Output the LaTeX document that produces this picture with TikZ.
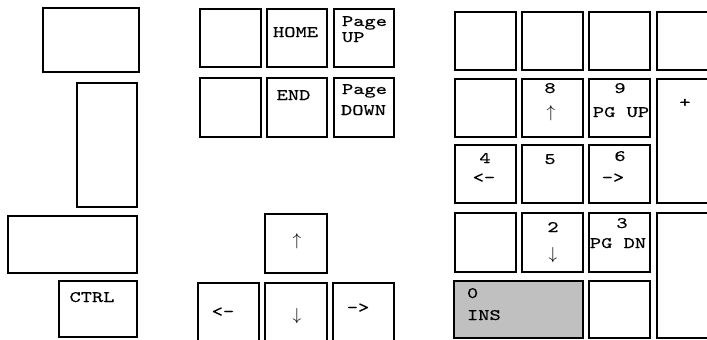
\documentclass[tikz,border=0pt]{standalone}
\usepackage{fontspec}
\definecolor{keygray}{RGB}{192,192,192}
\newfontfamily\keyfam{lmmono10-regular.otf}[FakeStretch=1.34,FakeBold=0.6]
\newcommand\kf{\keyfam\fontsize{16}{16}\selectfont}
\tikzset{
  keybox/.style={draw=black, line width=2.6pt, fill=white, inner sep=0pt, outer sep=0pt},
  keytxt/.style={inner sep=0pt, outer sep=0pt, font=\kf},
  keyarrow/.style={inner sep=0pt, outer sep=0pt, font=\fontsize{19}{19}\selectfont},
}
\newcommand\K[6]{\node[keybox, minimum width=#4pt, minimum height=#5pt, #6] (#1) at (#2,#3) {};}
\begin{document}
\begin{tikzpicture}[x=1pt,y=-1pt]
\useasboundingbox (0,0) rectangle (707,340);
\begin{scope}
\clip (0,0) rectangle (707,340);
% left column
\K{kA}{91}{40}{96}{64}{}
\K{kB}{107}{145}{60}{124}{}
\K{kC}{72.5}{244.5}{129}{57}{}
\K{kCtrl}{98}{309}{78}{56}{}
% middle block
\K{kIns}{230.5}{38}{61}{58}{}
\K{kHome}{297}{38}{60}{58}{}
\K{kPgUp}{364}{38}{60}{58}{}
\K{kDel}{230.5}{107.5}{61}{59}{}
\K{kEnd}{297}{107.5}{60}{59}{}
\K{kPgDn}{364}{107.5}{60}{59}{}
\K{kUp}{296}{243.5}{62}{59}{}
\K{kLeft}{228.5}{314}{61}{62}{}
\K{kDown}{296}{314}{62}{62}{}
\K{kRight}{363.5}{314}{61}{62}{}
% numpad
\K{nA}{485.5}{41}{61}{58}{}
\K{nB}{552.5}{41}{61}{58}{}
\K{nC}{619.5}{41}{61}{58}{}
\K{nD}{688.5}{41}{63}{58}{}
\K{nE}{485.5}{108}{61}{58}{}
\K{nEight}{552.5}{108}{61}{58}{}
\K{nNine}{619.5}{108}{61}{58}{}
\K{nPlus}{688.5}{141}{63}{124}{}
\K{nFour}{485.5}{174}{61}{58}{}
\K{nFive}{552.5}{174}{61}{58}{}
\K{nSix}{619.5}{174}{61}{58}{}
\K{nF}{485.5}{242.5}{61}{59}{}
\K{nTwo}{552.5}{242.5}{61}{59}{}
\K{nThree}{619.5}{242.5}{61}{59}{}
\K{nEnter}{688.5}{275.5}{63}{125}{}
\K{nZero}{518.5}{309.5}{129}{57}{fill=keygray}
\K{nDot}{619.5}{309.5}{61}{57}{}
\end{scope}
% labels
\node[keytxt, anchor=base] (tCtrl) at (92,302) {CTRL};
\node[keytxt, anchor=base] (tHome) at (295.5,37) {HOME};
\node[keytxt, anchor=base west] (tPage1) at (342,26) {Page};
\node[keytxt, anchor=base west] (tUp1) at (342,42) {UP};
\node[keytxt, anchor=base] (tEnd) at (293.5,100) {END};
\node[keytxt, anchor=base west] (tPage2) at (342,94) {Page};
\node[keytxt, anchor=base west] (tDown2) at (341,115) {DOWN};
\node[keyarrow] (tUpA) at (297,241) {$\uparrow$};
\node[keytxt] (tLeftA) at (223,312) {<-};
\node[keyarrow] (tDownA) at (297,316) {$\downarrow$};
\node[keytxt] (tRightA) at (358,308) {->};
\node[keytxt, anchor=base] (t8) at (550,93) {8};
\node[keyarrow] (t8a) at (551,113) {$\uparrow$};
\node[keytxt, anchor=base] (t9) at (620,93) {9};
\node[keytxt, anchor=base] (t9a) at (621,117) {PG UP};
\node[keytxt] (tPlus) at (685,103) {+};
\node[keytxt, anchor=base] (t4) at (485,163) {4};
\node[keytxt] (t4a) at (484,178) {<-};
\node[keytxt, anchor=base] (t5) at (550,164) {5};
\node[keytxt, anchor=base] (t6) at (620,161) {6};
\node[keytxt] (t6a) at (613,178) {->};
\node[keytxt, anchor=base] (t2) at (553,232) {2};
\node[keyarrow] (t2a) at (553,255) {$\downarrow$};
\node[keytxt, anchor=base] (t3) at (622,228) {3};
\node[keytxt, anchor=base] (t3a) at (618,248) {PG DN};
\node[keytxt, anchor=base west] (t0) at (467,298) {0};
\node[keytxt, anchor=base west] (t0a) at (467,320) {INS};
\end{tikzpicture}
\end{document}
